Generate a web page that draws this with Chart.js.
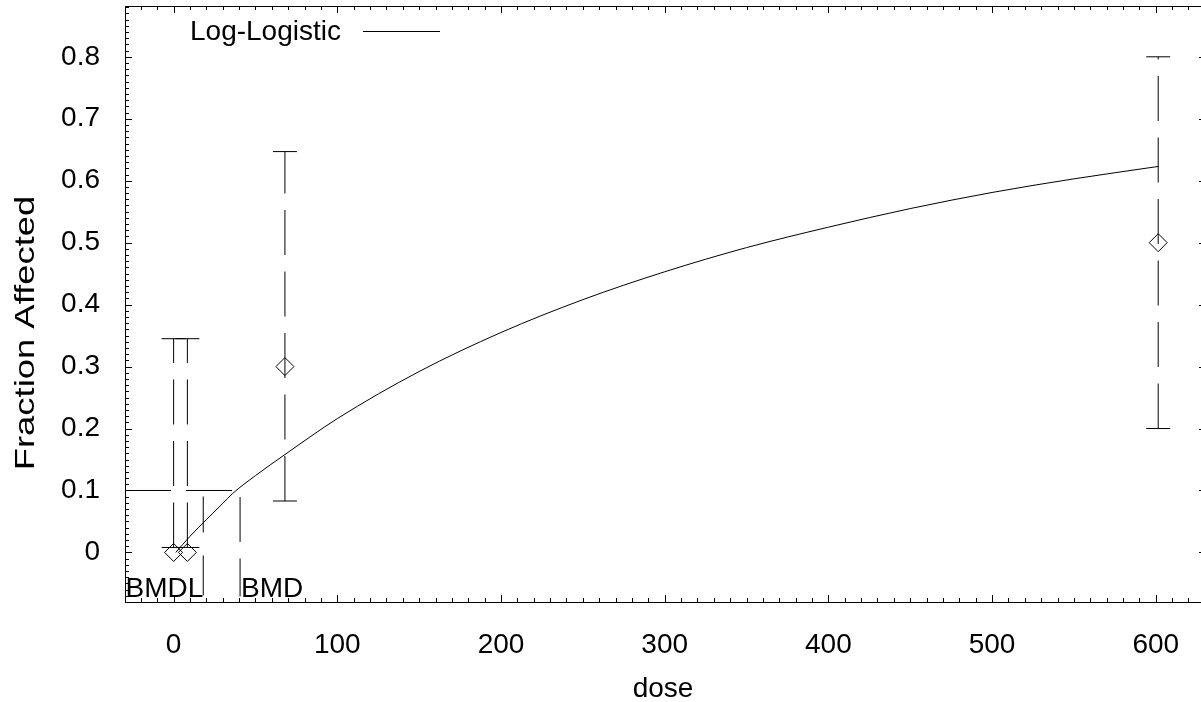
<!DOCTYPE html>
<html><head><meta charset="utf-8">
<script src="https://cdn.jsdelivr.net/npm/chart.js@4.4.1/dist/chart.umd.min.js"></script>
<style>
html,body{margin:0;padding:0;background:#fff;overflow:hidden;}
#wrap{position:relative;width:1210px;height:702px;}
</style></head><body>
<div id="wrap"><canvas id="c" width="1210" height="702"></canvas></div>
<script>
// ---- data ----
const doses = [0, 8.4, 68, 601.5];
const fractionAffected = [0, 0, 0.3, 0.5];
const lowerBound = [0.008, 0.008, 0.083, 0.2];
const upperBound = [0.345, 0.345, 0.647, 0.8];

const curveDose = [1.3, 10, 20, 30, 36, 50, 68, 100, 150, 200, 250, 300, 350, 400, 450, 500, 550, 601.5];
const curveFraction = [0, 0.026, 0.053, 0.079, 0.095, 0.124, 0.158, 0.216, 0.292, 0.355, 0.408, 0.453, 0.492, 0.525, 0.555, 0.581, 0.603, 0.623];

const bmr = 0.1;
const bmd = 40.6;
const bmdl = 18.1;
const bmdLineBottom = -0.071;

const xTicks = [0, 100, 200, 300, 400, 500, 600];
const xTickLabels = ['0', '100', '200', '300', '400', '500', '600'];
const yTicks = [0, 0.1, 0.2, 0.3, 0.4, 0.5, 0.6, 0.7, 0.8];
const yTickLabels = ['0', '0.1', '0.2', '0.3', '0.4', '0.5', '0.6', '0.7', '0.8'];
const xRange = [-29.7, 630.7];
const yRange = [-0.08, 0.882];

const legendLabel = 'Log-Logistic';
const xTitle = 'dose';
const yTitle = 'Fraction Affected';

// ---- build datasets ----
const FONT = '"Liberation Sans", Arial, sans-serif';
const black = '#000';
const datasets = [];

datasets.push({
  label: legendLabel,
  data: curveDose.map((d, i) => ({x: d, y: curveFraction[i]})),
  showLine: true, borderColor: black, borderWidth: 1, pointRadius: 0,
  cubicInterpolationMode: 'monotone', fill: false
});

doses.forEach((d, i) => {
  datasets.push({
    data: [{x: d, y: lowerBound[i]}, {x: d, y: upperBound[i]}],
    showLine: true, borderColor: black, borderWidth: 1, pointRadius: 0,
    borderDash: [45, 16.5]
  });
  datasets.push({
    data: [{x: d, y: lowerBound[i]}, {x: d, y: upperBound[i]}],
    showLine: false, pointStyle: 'line', pointRadius: 12,
    pointBorderColor: black, pointBorderWidth: 1
  });
});

datasets.push({
  data: doses.map((d, i) => ({x: d, y: fractionAffected[i]})),
  showLine: false, pointStyle: 'rectRot', pointRadius: 9,
  pointBorderColor: black, pointBackgroundColor: 'rgba(0,0,0,0)', pointBorderWidth: 1
});

// BMR horizontal line
datasets.push({
  data: [{x: xRange[0], y: bmr}, {x: bmd, y: bmr}],
  showLine: true, borderColor: black, borderWidth: 1, pointRadius: 0,
  borderDash: [46, 15]
});
// BMD vertical
datasets.push({
  data: [{x: bmd, y: bmr}, {x: bmd, y: bmdLineBottom}],
  showLine: true, borderColor: black, borderWidth: 1, pointRadius: 0,
  borderDash: [45, 16.5], borderDashOffset: 55
});
// BMDL vertical
datasets.push({
  data: [{x: bmdl, y: bmr}, {x: bmdl, y: bmdLineBottom}],
  showLine: true, borderColor: black, borderWidth: 1, pointRadius: 0,
  borderDash: [36, 23, 40, 7], borderDashOffset: 100
});

const framePlugin = {
  id: 'frame',
  afterDatasetsDraw(chart) {
    const {ctx, chartArea: a} = chart;
    const x = chart.scales.x, y = chart.scales.y;
    ctx.save();
    ctx.strokeStyle = black; ctx.lineWidth = 1;
    ctx.beginPath();
    const major = 7, minor = 4;
    for (let i = Math.ceil(xRange[0] / 10); i * 10 <= xRange[1]; i++) {
      const px = Math.round(x.getPixelForValue(i * 10)) + 0.5;
      const len = (i % 10 === 0) ? major : minor;
      ctx.moveTo(px, a.bottom); ctx.lineTo(px, a.bottom - len);
      ctx.moveTo(px, a.top); ctx.lineTo(px, a.top + len);
    }
    for (let j = Math.ceil(yRange[0] * 100); j <= Math.floor(yRange[1] * 100); j++) {
      const py = Math.round(y.getPixelForValue(j / 100)) + 0.5;
      const len = (j % 10 === 0) ? major : minor;
      ctx.moveTo(a.left, py); ctx.lineTo(a.left + len, py);
      ctx.moveTo(a.right, py); ctx.lineTo(a.right - len, py);
    }
    ctx.stroke();
    ctx.strokeRect(Math.round(a.left) + 0.5, Math.round(a.top) + 0.5,
                   Math.round(a.right - a.left), Math.round(a.bottom - a.top));

    ctx.fillStyle = black;
    ctx.font = '28px ' + FONT;
    ctx.textBaseline = 'alphabetic';
    // legend
    ctx.textAlign = 'left';
    ctx.fillText(legendLabel, 190, 40);
    ctx.beginPath();
    ctx.moveTo(363, 31.5); ctx.lineTo(440, 31.5);
    ctx.stroke();
    // BMDL / BMD labels
    ctx.textAlign = 'right';
    ctx.fillText('BMDL', x.getPixelForValue(bmdl), a.bottom - 5);
    ctx.textAlign = 'left';
    ctx.fillText('BMD', x.getPixelForValue(bmd) + 1, a.bottom - 5);
    // axis titles
    ctx.textAlign = 'center';
    ctx.fillText(xTitle, 663, 697);
    ctx.save();
    ctx.translate(34, 333);
    ctx.rotate(-Math.PI / 2);
    ctx.scale(1.3, 1);
    ctx.fillText(yTitle, 0, 0);
    ctx.restore();
    ctx.restore();
  }
};

function zeroPad(s) { s.paddingTop = 0; s.paddingBottom = 0; s.paddingLeft = 0; s.paddingRight = 0; }

new Chart(document.getElementById('c'), {
  type: 'scatter',
  data: {datasets},
  options: {
    responsive: false,
    devicePixelRatio: 1,
    animation: false,
    layout: {autoPadding: false, padding: {top: 6, right: 4, left: 0, bottom: 0}},
    plugins: {legend: {display: false}, tooltip: {enabled: false}},
    scales: {
      x: {
        type: 'linear', min: xRange[0], max: xRange[1],
        grid: {display: false}, border: {display: false},
        afterFit(s) { s.height = 100; zeroPad(s); },
        afterBuildTicks(s) { s.ticks = xTicks.map(v => ({value: v})); },
        ticks: {
          color: black, padding: 18, maxRotation: 0, autoSkip: false,
          font: {family: FONT, size: 28},
          callback(v) { const k = xTicks.indexOf(v); return k >= 0 ? xTickLabels[k] : ''; }
        }
      },
      y: {
        type: 'linear', min: yRange[0], max: yRange[1],
        grid: {display: false}, border: {display: false},
        afterFit(s) { s.width = 125; zeroPad(s); },
        afterBuildTicks(s) { s.ticks = yTicks.map(v => ({value: v})); },
        ticks: {
          color: black, padding: 17, autoSkip: false,
          font: {family: FONT, size: 28},
          callback(v) { const k = yTicks.indexOf(v); return k >= 0 ? yTickLabels[k] : ''; }
        }
      }
    }
  },
  plugins: [framePlugin]
});
</script>
</body></html>
